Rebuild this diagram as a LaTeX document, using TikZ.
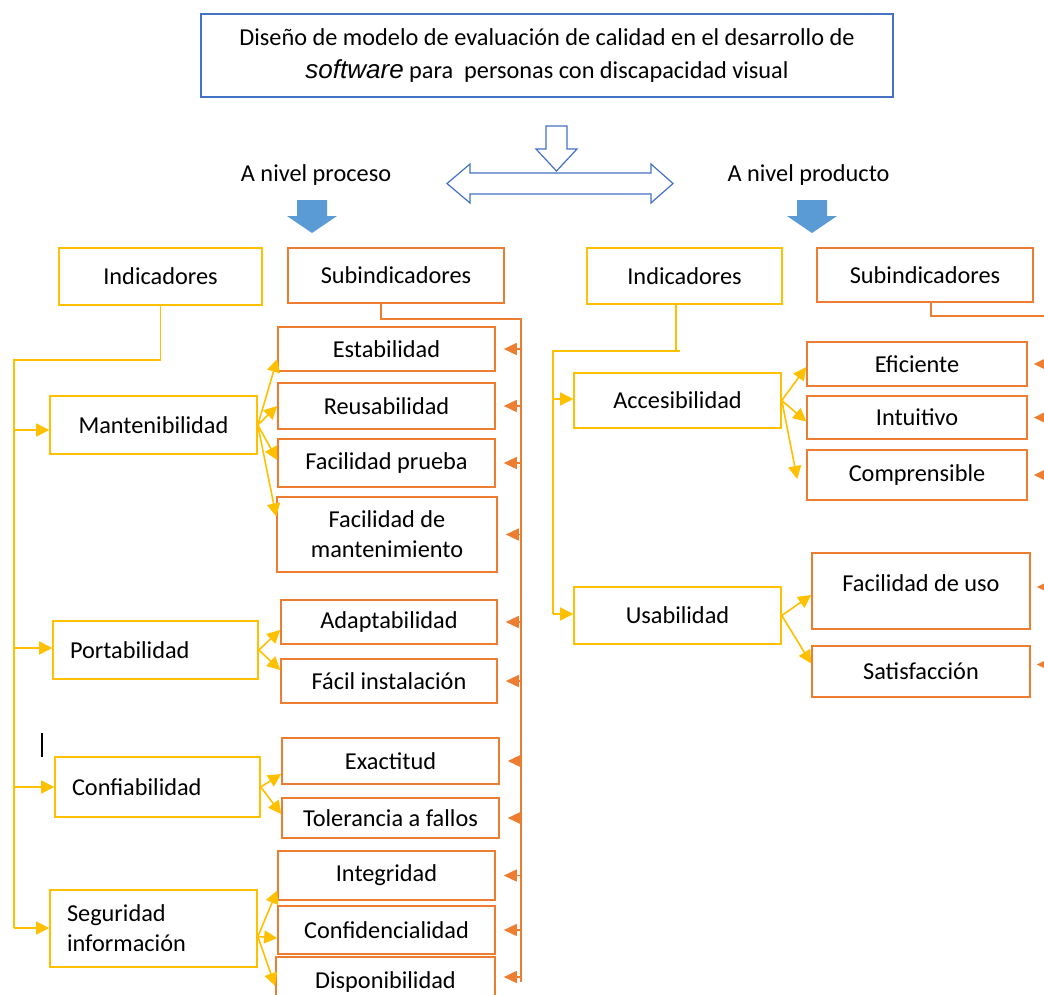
\documentclass[tikz,border=0pt]{standalone}
\usepackage{fontspec}
\setmainfont{Carlito}
\newfontfamily\arialfont{Liberation Sans}
\usetikzlibrary{arrows.meta}
\definecolor{cyel}{HTML}{FFC000}
\definecolor{cora}{HTML}{ED7D31}
\definecolor{cblu}{HTML}{4472C4}
\definecolor{cfill}{HTML}{5B9BD5}
\begin{document}
\begin{tikzpicture}[x=1pt,y=-1pt, font=\fontsize{24.3}{30}\selectfont,
  ybox/.style={draw=cyel, line width=1.6pt, inner sep=0pt, align=center},
  obox/.style={draw=cora, line width=1.6pt, inner sep=0pt, align=center},
  lbox/.style={ybox, align=left, inner xsep=17pt},
  yline/.style={draw=cyel, line width=1.6pt},
  yarr/.style={yline, -{Triangle[length=13pt,width=13pt]}},
  oline/.style={draw=cora, line width=1.6pt},
  oarr/.style={oline, -{Triangle[length=13pt,width=12pt]}},
  hollow/.style={draw=cblu, fill=white, line width=1.2pt},
]
\clip (0,0) rectangle (1044,994);
\fill[white] (0,0) rectangle (1044,994);

% title
\node[draw=cblu, line width=1.4pt, minimum width=692pt, minimum height=83pt, align=center, inner sep=0pt] (title) at (547,55.5)
 {Diseño de modelo de evaluación de calidad en el desarrollo de\\[3pt]{\arialfont\itshape\fontsize{26}{28}\selectfont software} para~ personas con discapacidad visual};

% hollow arrows
\draw[hollow] (447,183.5) -- (470,164) -- (470,173) -- (651,173) -- (651,164) -- (673,183.5) -- (651,203) -- (651,194) -- (470,194) -- (470,203) -- cycle;
\draw[hollow] (546,126) -- (567,126) -- (567,149) -- (577,149) -- (556.5,171) -- (536,149) -- (546,149) -- cycle;

\node (proc) at (316,175) {A nivel proceso};
\node (prod) at (808.5,175) {A nivel producto};

% filled arrows
\fill[cfill] (297,200) -- (327,200) -- (327,216) -- (337,216) -- (312,233) -- (287,216) -- (297,216) -- cycle;
\fill[cfill] (797,200) -- (827,200) -- (827,216) -- (837,216) -- (812,233) -- (787,216) -- (797,216) -- cycle;

% left column
\node[ybox, minimum width=203pt, minimum height=57pt] (indL) at (160.5,276.5) {Indicadores};
\node[obox, minimum width=216pt, minimum height=55pt] (subL) at (396,275.5) {Subindicadores};

\node[ybox, minimum width=207pt, minimum height=58pt] (mant) at (153.5,425) {Mantenibilidad};
\node[lbox, text width=171pt, minimum height=58pt] (port) at (155.5,650) {Portabilidad};
\node[lbox, text width=171pt, minimum height=60pt] (conf) at (157.5,787) {Confiabilidad};
\node[lbox, text width=173pt, minimum height=77pt] (seg) at (153.5,928.5) {Seguridad\\información};

\node[obox, minimum width=217pt, minimum height=44pt] (est) at (386.5,349) {Estabilidad};
\node[obox, minimum width=217pt, minimum height=46pt] (reu) at (386.5,406) {Reusabilidad};
\node[obox, minimum width=217pt, minimum height=48pt] (fp) at (386.5,463) {Facilidad prueba};
\node[obox, minimum width=220pt, minimum height=75pt] (fdm) at (387,534.5) {Facilidad de\\mantenimiento};
\node[obox, minimum width=216pt, minimum height=44pt] (adap) at (389,622) {Adaptabilidad};
\node[obox, minimum width=216pt, minimum height=44pt] (fi) at (389,681) {Fácil instalación};
\node[obox, minimum width=217pt, minimum height=46pt] (exa) at (390.5,761) {Exactitud};
\node[obox, minimum width=217pt, minimum height=40pt] (tol) at (390.5,818) {Tolerancia a fallos};
\node[obox, minimum width=217pt, minimum height=49pt] (integ) at (386.5,875.5) {Integridad};
\node[obox, minimum width=217pt, minimum height=48pt] (confi) at (386.5,930) {Confidencialidad};
\node[obox, minimum width=219pt, minimum height=50pt] (disp) at (385.5,982) {Disponibilidad};

% right column
\node[ybox, minimum width=195pt, minimum height=56pt] (indR) at (684.5,276) {Indicadores};
\node[obox, minimum width=216pt, minimum height=54pt] (subR) at (925,275) {Subindicadores};
\node[ybox, minimum width=207pt, minimum height=55pt] (acc) at (677.5,400.5) {Accesibilidad};
\node[ybox, minimum width=207pt, minimum height=57pt] (usa) at (677.5,615.5) {Usabilidad};
\node[obox, minimum width=220pt, minimum height=44pt] (efi) at (917,364) {Eficiente};
\node[obox, minimum width=220pt, minimum height=43pt] (intu) at (917,417.5) {Intuitivo};
\node[obox, minimum width=220pt, minimum height=50pt] (comp) at (917,475) {Comprensible};
\node[obox, minimum width=218pt, minimum height=76pt] (fdu) at (921,591) {\raisebox{16pt}{Facilidad de uso}};
\node[obox, minimum width=218pt, minimum height=51pt] (sat) at (921,671.5) {Satisfacción};

% left yellow bus
\coordinate (lb0) at (14,360);
\coordinate (lb1) at (14,430);
\coordinate (lb2) at (14,648);
\coordinate (lb3) at (14,787);
\coordinate (lb4) at (14,928);
\draw[yline] (indL.south) -- (indL.south |- lb0) -- (lb0) -- (lb4);
\draw[yarr] (lb1) -- (lb1 -| mant.west);
\draw[yarr] (lb2) -- (lb2 -| port.west);
\draw[yarr] (lb3) -- (lb3 -| conf.west);
\draw[yarr] (lb4) -- (lb4 -| seg.west);

% left branches
\draw[yarr] (mant.east) -- ([yshift=-10pt]est.west);
\draw[yarr] (mant.east) -- (reu.west);
\draw[yarr] (mant.east) -- ([yshift=3pt]fp.west);
\draw[yarr] (mant.east) -- ([yshift=18pt]fdm.west);
\draw[yarr] (port.east) -- ([yshift=-8pt]adap.west);
\draw[yarr] (port.east) -- ([yshift=11pt]fi.west);
\draw[yarr] (conf.east) -- ([yshift=-13pt]exa.west);
\draw[yarr] (conf.east) -- ([yshift=4pt]tol.west);
\draw[yarr] ([yshift=-8pt]seg.east) -- ([yshift=-15pt]integ.west);
\draw[yarr] ([yshift=-8pt]seg.east) -- ([yshift=-8pt]confi.west);
\draw[yarr] ([yshift=-8pt]seg.east) -- ([yshift=-4pt]disp.west);

% right yellow bus
\coordinate (rtop) at ([xshift=-8.5pt]indR.south);
\coordinate (rb0) at (553,351);
\coordinate (rb1) at (553,399);
\coordinate (rb2) at (553,614);
\draw[yline] (rtop) -- (rtop |- rb0);
\draw[yline] ([xshift=4pt]rtop |- rb0) -- (rb0) -- (rb2);
\draw[yarr] (rb1) -- (rb1 -| acc.west);
\draw[yarr] (rb2) -- (rb2 -| usa.west);

% right branches
\draw[yarr] (acc.east) -- ([yshift=-3pt]efi.west);
\draw[yarr] (acc.east) -- ([yshift=-4pt]intu.west);
\draw[yarr] (acc.east) -- ([xshift=-9pt,yshift=-4pt]comp.west);
\draw[yarr] (usa.east) -- ([yshift=-4pt]fdu.west);
\draw[yarr] (usa.east) -- ([yshift=8pt]sat.west);

% left orange bus
\coordinate (ob0) at (521,319);
\coordinate (obE) at (521,982);
\draw[oline] ([xshift=-15pt]subL.south) |- (ob0) -- (obE);
\foreach \n in {est,reu,fp,fdm,adap,fi,exa,tol,integ,confi}
  \draw[oarr] (\n.east -| obE) -- ([xshift=8pt]\n.east);
\draw[oarr] ([yshift=5pt]disp.east -| obE) -- ([xshift=8pt,yshift=5pt]disp.east);

% right orange bus
\coordinate (or0) at (1060,316);
\draw[oline] ([xshift=6pt]subR.south) |- (or0);
\foreach \n in {efi,intu,comp}
  \draw[oarr] (\n.east -| or0) -- ([xshift=6pt]\n.east);
\draw[oarr] ([yshift=4pt]fdu.east -| or0) -- ([xshift=6pt,yshift=4pt]fdu.east);
\draw[oarr] ([yshift=7pt]sat.east -| or0) -- ([xshift=6pt,yshift=7pt]sat.east);

% cursor mark
\draw[black, line width=1.5pt] (42,733) -- (42,757);
\end{tikzpicture}
\end{document}
